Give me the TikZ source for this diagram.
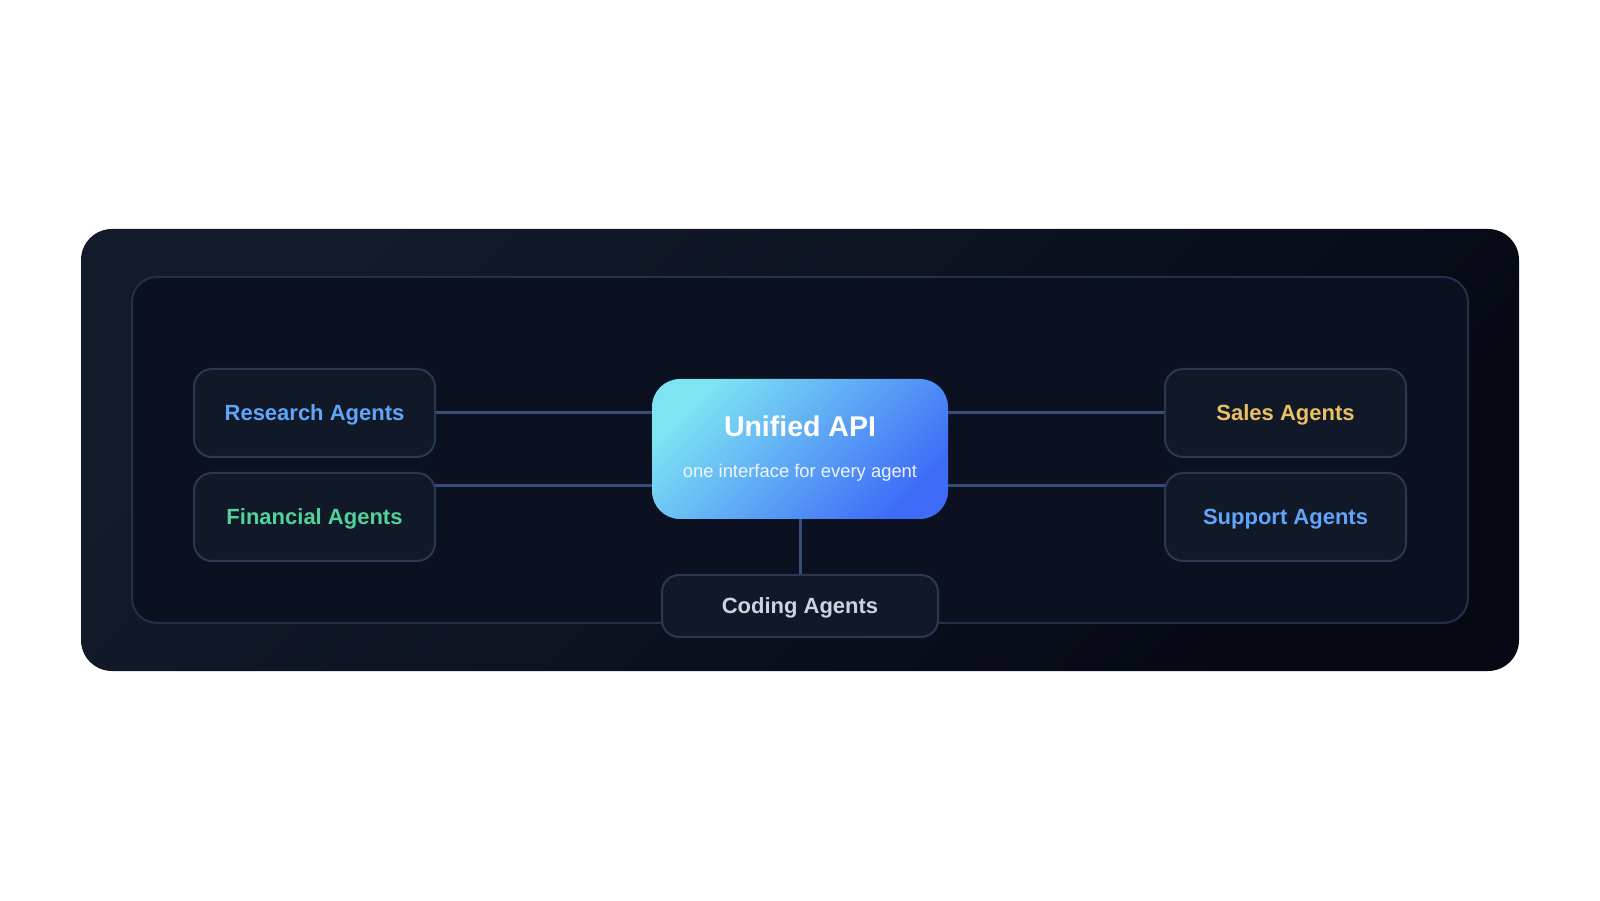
\documentclass[tikz,border=0pt]{standalone}
\usepackage{fontspec}
\setmainfont{Liberation Sans}
\usetikzlibrary{positioning,backgrounds}

\definecolor{panellight}{HTML}{131B2B}
\definecolor{paneldark}{HTML}{060914}
\definecolor{framefill}{HTML}{0B1120}
\definecolor{framedraw}{HTML}{22304C}
\definecolor{boxfill}{HTML}{111827}
\definecolor{boxdraw}{HTML}{2A3853}
\definecolor{linkcol}{HTML}{364E78}
\definecolor{apicyan}{HTML}{7EE4F2}
\definecolor{apiblue}{HTML}{3E6CF8}
\definecolor{agentblue}{HTML}{60A5FA}
\definecolor{agentgreen}{HTML}{4FD39A}
\definecolor{agentgold}{HTML}{EAC062}
\definecolor{agentgrey}{HTML}{CBD5E1}
\definecolor{subtext}{HTML}{EEF6FF}

\begin{document}
\begin{tikzpicture}[x=1pt, y=1pt,
		agent/.style={draw=boxdraw, line width=2pt, fill=boxfill, rounded corners=18pt,
			minimum width=241pt, minimum height=88pt, outer sep=0pt,
			text height=15.8pt, text depth=0pt,
			font=\fontsize{22}{26}\selectfont\bfseries},
		hub/.style={rounded corners=28pt, top color=apicyan, bottom color=apiblue, shading angle=45,
			minimum width=296pt, minimum height=140pt, outer sep=0pt, align=center,
			text=subtext, font=\fontsize{18.4}{41}\selectfont},
		link/.style={draw=linkcol, line width=3pt}]

		\useasboundingbox (0,0) rectangle (1600,900);

		\node[hub] (api) at (800,451) {{\fontsize{28.5}{41}\selectfont\bfseries\color{white}Unified API}\\one interface for every agent};
		\node[agent, text=agentblue, left=217pt of api.west, yshift=36pt] (research) {Research Agents};
		\node[agent, text=agentgreen, below=16pt of research] (financial) {Financial Agents};
		\node[agent, text=agentgold, right=217pt of api.east, yshift=36pt] (sales) {Sales Agents};
		\node[agent, text=agentblue, below=16pt of sales] (support) {Support Agents};
		\node[agent, text=agentgrey, rounded corners=17pt, minimum width=276pt, minimum height=62pt,
			below=56pt of api] (coding) {Coding Agents};

		\begin{scope}[on background layer]
			\fill[white] (0,0) rectangle (1600,900);
			\shade[rounded corners=31pt, top color=panellight, bottom color=paneldark, shading angle=45]
				(81,229) rectangle (1519,671);
			\draw[draw=framedraw, line width=2pt, fill=framefill, rounded corners=25pt]
				(132,277) rectangle (1468,623);

			\draw[link] (research.east) -- (research.east -| api.west);
			\draw[link] ([yshift=-37pt]api.west) -- ([yshift=-37pt]api.west -| financial.east);
			\draw[link] (sales.west) -- (sales.west -| api.east);
			\draw[link] ([yshift=-37pt]api.east) -- ([yshift=-37pt]api.east -| support.west);
			\draw[link] (api) -- (coding);
		\end{scope}
	\end{tikzpicture}
\end{document}
